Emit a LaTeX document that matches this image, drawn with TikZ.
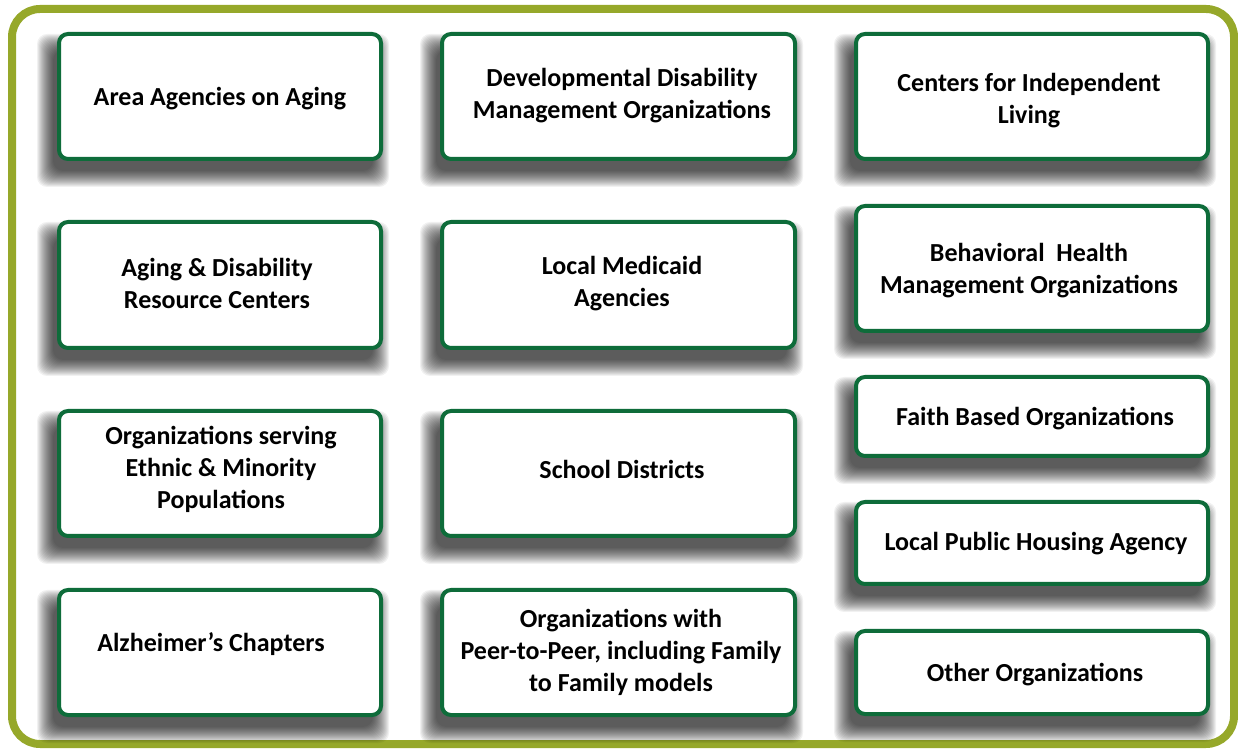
\documentclass[tikz,border=0pt]{standalone}
\usepackage{fontspec}
\setmainfont{Carlito}
\definecolor{framegreen}{RGB}{150,168,42}
\definecolor{boxgreen}{RGB}{14,108,58}
\pgfdeclarelayer{framelayer}
\pgfdeclarelayer{shadowlayer}
\pgfsetlayers{framelayer,shadowlayer,main}
\tikzset{
  orgbox/.style={draw=boxgreen, line width=4pt, rounded corners=9pt, fill=white, inner sep=0pt},
  lbl/.style={align=center, font=\bfseries\fontsize{26}{32}\selectfont, inner sep=0pt},
  framebox/.style={draw=framegreen, line width=8pt, rounded corners=28pt, fill=white},
  shadowlayerfill/.style={fill=black, opacity=0.055, rounded corners=10pt},
}
\newcommand\softshadow[1]{%
  \foreach \e in {0,1,...,16} {
    \fill[shadowlayerfill] ([shift={(-4-\e,-10-\e)}]#1.south west) rectangle ([shift={(-10+\e,-18+\e)}]#1.north east);
  }}
\begin{document}
\begin{tikzpicture}[x=1pt,y=1pt]
\useasboundingbox (0,0) rectangle (1238,749);
\begin{pgfonlayer}{framelayer}
\draw[framebox] (12,740) rectangle (1234,5);
\end{pgfonlayer}
% column 1
\node[orgbox, minimum width=322pt, minimum height=125pt] (b1) at (220,652.5) {};
\node[orgbox, minimum width=322pt, minimum height=126pt] (b4) at (220,464) {};
\node[orgbox, minimum width=322pt, minimum height=125pt] (b7) at (220,275.5) {};
\node[orgbox, minimum width=322pt, minimum height=125pt] (b11) at (220,96.5) {};
% column 2
\node[orgbox, minimum width=353pt, minimum height=125pt] (b2) at (618.5,652.5) {};
\node[orgbox, minimum width=353pt, minimum height=126pt] (b5) at (618.5,464) {};
\node[orgbox, minimum width=353pt, minimum height=125pt] (b8) at (618.5,275.5) {};
\node[orgbox, minimum width=353pt, minimum height=125pt] (b12) at (618.5,96.5) {};
% column 3
\node[orgbox, minimum width=352pt, minimum height=125pt] (b3) at (1032,652.5) {};
\node[orgbox, minimum width=352pt, minimum height=125pt] (b6) at (1032,480.5) {};
\node[orgbox, minimum width=352pt, minimum height=79pt] (b9) at (1032,332.5) {};
\node[orgbox, minimum width=352pt, minimum height=82pt] (b10) at (1032,206) {};
\node[orgbox, minimum width=352pt, minimum height=83pt] (b13) at (1032,76.5) {};
% shadows
\begin{pgfonlayer}{shadowlayer}
\softshadow{b1}\softshadow{b2}\softshadow{b3}\softshadow{b4}\softshadow{b5}
\softshadow{b6}\softshadow{b7}\softshadow{b8}\softshadow{b9}\softshadow{b10}
\softshadow{b11}\softshadow{b12}\softshadow{b13}
\end{pgfonlayer}
% labels
\node[lbl] (t1) at (220,650) {Area Agencies on Aging};
\node[lbl] (t2) at (622,653) {Developmental Disability\\Management Organizations};
\node[lbl] (t3) at (1029,648) {Centers for Independent\\Living};
\node[lbl] (t4) at (217,466) {Aging \& Disability\\Resource Centers};
\node[lbl] (t5) at (622,465) {Local Medicaid\\Agencies};
\node[lbl] (t6) at (1029,478) {Behavioral\ \ Health\\Management Organizations};
\node[lbl] (t7) at (221,280) {Organizations serving\\Ethnic \& Minority\\Populations};
\node[lbl] (t8) at (622,280) {School Districts};
\node[lbl] (t9) at (1035,330) {Faith Based Organizations};
\node[lbl] (t10) at (1036,205) {Local Public Housing Agency};
\node[lbl] (t11) at (211,105) {Alzheimer’s Chapters};
\node[lbl] (t12) at (621,97) {Organizations with\\Peer-to-Peer, including Family\\to Family models};
\node[lbl] (t13) at (1035,74) {Other Organizations};
\end{tikzpicture}
\end{document}
